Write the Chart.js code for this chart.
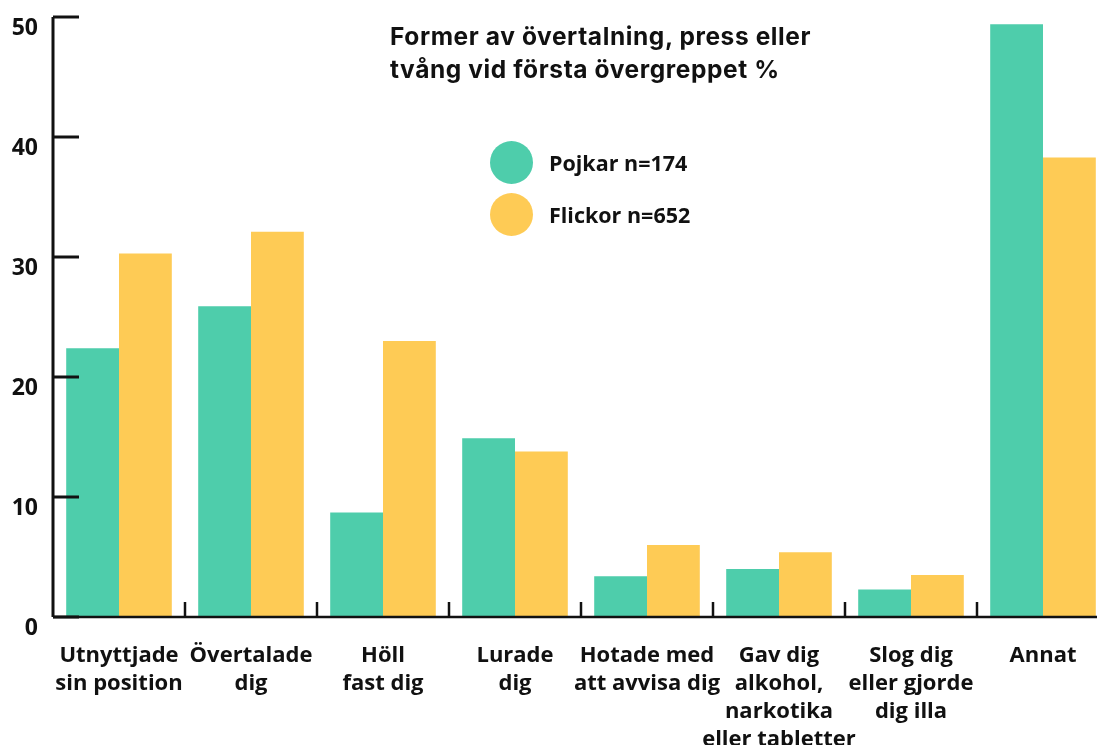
<!DOCTYPE html>
<html>
<head>
<meta charset="utf-8">
<script src="https://cdn.jsdelivr.net/npm/chart.js@4"></script>
<style>
    html, body { margin: 0; padding: 0; background: #fff; overflow: hidden; }
    #wrap { position: relative; width: 1120px; height: 745px; }
    #title {
        position: absolute; left: 390px; top: 20px;
        font-family: Inter, sans-serif; font-weight: 700; font-size: 24.5px; line-height: 33px;
        letter-spacing: 0.6px; color: #111;
    }
    #legend { position: absolute; left: 490px; top: 136px; }
    .item { display: flex; align-items: center; height: 52px; }
    .dot { width: 43px; height: 43px; border-radius: 50%; margin-right: 16px; }
    .item span { font-family: "Open Sans", sans-serif; font-weight: 700; font-size: 21.5px; color: #111; }
</style>
</head>
<body>
<div id="wrap">
    <canvas id="myChart"></canvas>
    <div id="title">Former av övertalning, press eller<br>tvång vid första övergreppet %</div>
    <div id="legend"></div>
</div>
<script>
const categories = [
    ['Utnyttjade', 'sin position'],
    ['Övertalade', 'dig'],
    ['Höll', 'fast dig'],
    ['Lurade', 'dig'],
    ['Hotade med', 'att avvisa dig'],
    ['Gav dig', 'alkohol,', 'narkotika', 'eller tabletter'],
    ['Slog dig', 'eller gjorde', 'dig illa'],
    ['Annat']
];
const pojkar = [22.4, 25.9, 8.7, 14.9, 3.4, 4.0, 2.3, 49.4];
const flickor = [30.3, 32.1, 23.0, 13.8, 6.0, 5.4, 3.5, 38.3];
const seriesNames = ['Pojkar n=174', 'Flickor n=652'];
const seriesColors = ['#4ecdab', '#fecb55'];
const yMax = 50;

// axis lines and the little inward ticks
const axisPlugin = {
    id: 'axisPlugin',
    afterDraw(chart) {
        const ctx = chart.ctx;
        const x = chart.scales.x;
        const y = chart.scales.y;
        const area = chart.chartArea;
        ctx.save();
        ctx.strokeStyle = '#111';
        ctx.lineWidth = 3;
        ctx.beginPath();
        ctx.moveTo(area.left, area.top);
        ctx.lineTo(area.left, area.bottom);
        ctx.stroke();
        for (let t of y.ticks) {
            const py = y.getPixelForValue(t.value);
            ctx.beginPath();
            ctx.moveTo(area.left, py);
            ctx.lineTo(area.left + 26, py);
            ctx.stroke();
        }
        ctx.lineWidth = 2.5;
        ctx.beginPath();
        ctx.moveTo(area.left, area.bottom);
        ctx.lineTo(chart.width, area.bottom);
        ctx.stroke();
        for (let i = 1; i < categories.length; i++) {
            const px = (x.getPixelForTick(i - 1) + x.getPixelForTick(i)) / 2;
            ctx.beginPath();
            ctx.moveTo(px, area.bottom);
            ctx.lineTo(px, area.bottom - 15);
            ctx.stroke();
        }
        ctx.restore();
    }
};

const ctx = document.getElementById('myChart').getContext('2d');
// eslint-disable-next-line no-undef
new Chart(ctx, {
    type: 'bar',
    data: {
        labels: categories,
        datasets: [
            { label: seriesNames[0], data: pojkar, backgroundColor: seriesColors[0] },
            { label: seriesNames[1], data: flickor, backgroundColor: seriesColors[1] }
        ]
    },
    options: {
        responsive: true,
        maintainAspectRatio: false,
        animation: false,
        datasets: { bar: { categoryPercentage: 0.8, barPercentage: 1.0 } },
        layout: { padding: { top: 17, right: 11 } },
        plugins: { legend: { display: false }, tooltip: { enabled: false } },
        scales: {
            x: {
                grid: { display: false, drawTicks: false },
                border: { display: false },
                ticks: {
                    color: '#111', padding: 25, maxRotation: 0, autoSkip: false,
                    font: { family: 'Open Sans', weight: 'bold', size: 22, lineHeight: 1.27 }
                },
                afterFit(scale) { scale.height = 128; }
            },
            y: {
                min: 0, max: yMax,
                grid: { display: false, drawTicks: false },
                border: { display: false },
                ticks: {
                    stepSize: 10, color: '#111', padding: 15, labelOffset: 11,
                    font: { family: 'Open Sans', weight: 'bold', size: 23 }
                },
                afterFit(scale) {
                    scale.width = 53;
                    scale.paddingTop = 0;
                    scale.paddingBottom = 0;
                }
            }
        }
    },
    plugins: [axisPlugin]
});

const legend = document.getElementById('legend');
seriesNames.forEach((name, i) => {
    const item = document.createElement('div');
    item.className = 'item';
    const dot = document.createElement('div');
    dot.className = 'dot';
    dot.style.background = seriesColors[i];
    const span = document.createElement('span');
    span.textContent = name;
    item.append(dot, span);
    legend.appendChild(item);
});
</script>
</body>
</html>
